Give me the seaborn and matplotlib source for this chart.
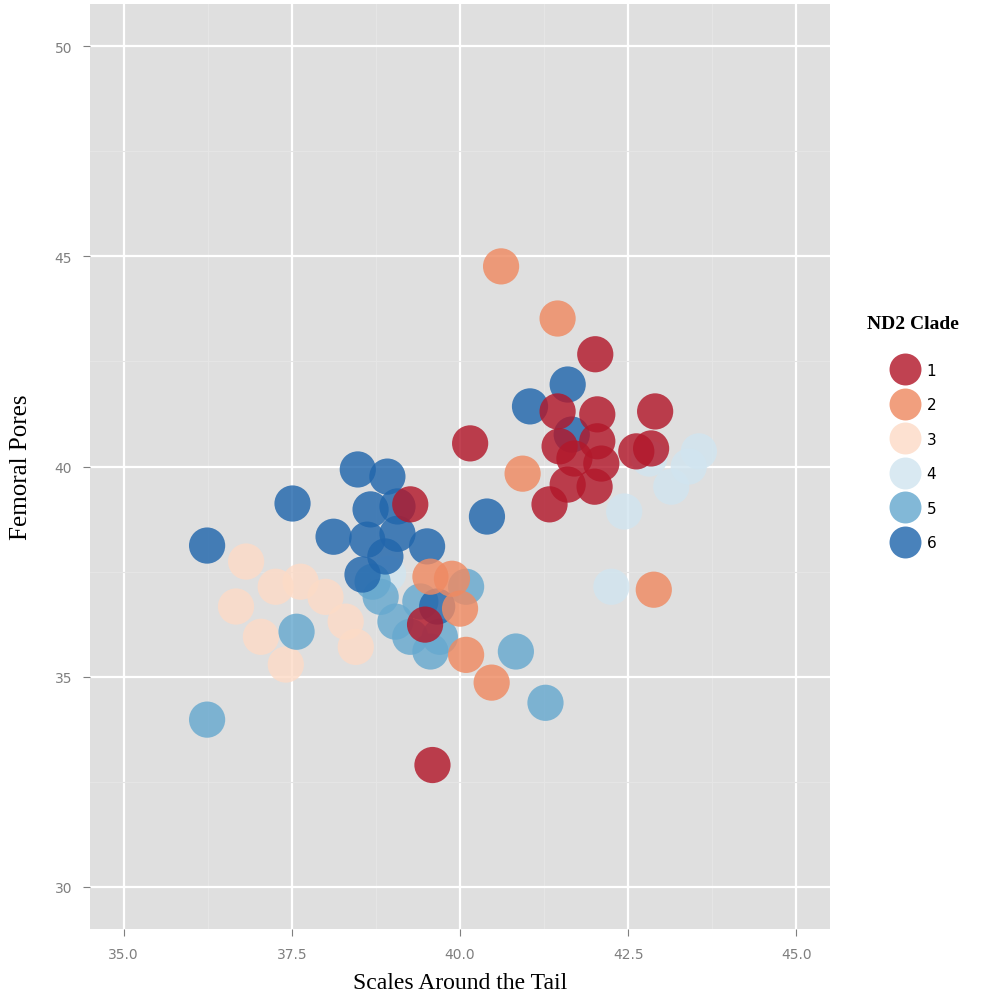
import numpy as np
import pandas as pd
import matplotlib
matplotlib.use("Agg")
import matplotlib.pyplot as plt
import seaborn as sns

# Points per ND2 clade (scales around tail, femoral pores)
clade3_x = [36.82, 36.67, 37.04, 37.41, 37.63, 38.00, 38.30, 38.45, 37.26]
clade3_y = [37.74, 36.67, 35.95, 35.29, 37.26, 36.90, 36.31, 35.71, 37.14]

clade4_x = [38.93, 42.81, 43.55, 43.14, 42.44, 42.25, 43.40]
clade4_y = [37.45, 40.19, 40.36, 39.52, 38.93, 37.14, 40.00]

clade5_x = [36.24, 37.57, 40.83, 41.27, 40.09, 38.82, 39.04, 39.26, 39.56, 39.70, 39.41, 38.70]
clade5_y = [33.98, 36.07, 35.60, 34.38, 37.14, 36.90, 36.31, 35.95, 35.60, 35.95, 36.79, 37.26]

clade6_x = [36.24, 37.51, 38.12, 38.48, 38.92, 38.67, 39.07, 38.62, 39.07, 39.51,
            40.40, 41.04, 41.60, 41.66, 38.55, 39.66, 38.89]
clade6_y = [38.12, 39.12, 38.33, 39.93, 39.76, 38.98, 39.05, 38.26, 38.40, 38.10,
            38.81, 41.43, 41.95, 40.76, 37.43, 36.67, 37.86]

clade2_x = [40.61, 41.45, 40.93, 42.88, 40.09, 40.47, 39.56, 39.88, 40.00]
clade2_y = [44.76, 43.52, 39.83, 37.07, 35.52, 34.86, 37.38, 37.33, 36.62]

clade1_x = [42.01, 40.15, 41.45, 42.04, 41.48, 42.04, 41.70, 42.10, 41.60, 42.00,
            41.33, 42.62, 42.84, 42.90, 39.26, 39.59, 39.48]
clade1_y = [42.67, 40.55, 41.31, 41.24, 40.48, 40.60, 40.19, 40.07, 39.57, 39.52,
            39.10, 40.36, 40.43, 41.31, 39.10, 32.90, 36.24]

clades = ["1", "2", "3", "4", "5", "6"]
palette = ["#b2182b", "#ef8a62", "#fddbc7", "#d1e5f0", "#67a9cf", "#2166ac"]

# draw order: pale clades first, reds last
groups = [("3", clade3_x, clade3_y), ("4", clade4_x, clade4_y),
          ("5", clade5_x, clade5_y), ("6", clade6_x, clade6_y),
          ("2", clade2_x, clade2_y), ("1", clade1_x, clade1_y)]
df = pd.concat([pd.DataFrame({"tail": xs, "pores": ys, "clade": c}) for c, xs, ys in groups],
               ignore_index=True)

fig = plt.figure(figsize=(9.83, 10.04), dpi=100)
ax = fig.add_axes([0.0916, 0.0737, 0.7528, 0.9213])
ax.set_facecolor("#dfdfdf")

sns.scatterplot(data=df, x="tail", y="pores", hue="clade", hue_order=clades,
                palette=palette, s=680, alpha=0.82, linewidth=0, ax=ax, legend=False)

ax.set_xlim(34.5, 45.5)
ax.set_ylim(29, 51)
ax.set_xticks([35.0, 37.5, 40.0, 42.5, 45.0])
ax.set_xticklabels(["35.0", "37.5", "40.0", "42.5", "45.0"])
ax.set_yticks([30, 35, 40, 45, 50])
ax.set_xticks([36.25, 38.75, 41.25, 43.75], minor=True)
ax.set_yticks([32.5, 37.5, 42.5, 47.5], minor=True)
ax.grid(which="major", color="white", linewidth=1.6)
ax.grid(which="minor", color="#e5e5e5", linewidth=0.8)
ax.set_axisbelow(True)
for sp in ax.spines.values():
    sp.set_visible(False)
ax.tick_params(which="major", colors="#7f7f7f", labelsize=10, length=5, width=0.8, pad=8)
ax.tick_params(which="minor", length=0)

ax.set_xlabel("Scales Around the Tail", family="Liberation Serif", fontsize=17, labelpad=8)
ax.set_ylabel("Femoral Pores", family="Liberation Serif", fontsize=18, labelpad=16)

# legend
handles = [plt.Line2D([], [], marker="o", linestyle="", markersize=23, markeredgewidth=0,
                      markerfacecolor=col, alpha=0.82) for col in palette]
leg = fig.legend(handles, clades, title="ND2 Clade", loc="upper left",
                 bbox_to_anchor=(0.868, 0.699), frameon=False, labelspacing=1.28,
                 handletextpad=0.4, fontsize=11)
leg.get_title().set_fontfamily("Liberation Serif")
leg.get_title().set_fontweight("bold")
leg.get_title().set_fontsize(14)
leg._legend_box.sep = 22

fig.savefig("out.png", dpi=100)
